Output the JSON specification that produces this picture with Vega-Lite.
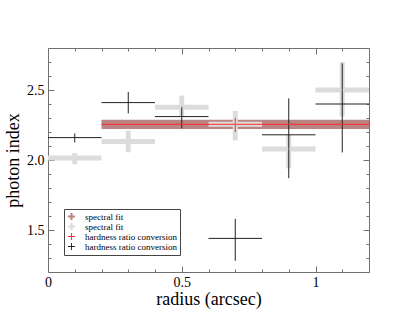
{
  "$schema": "https://vega.github.io/schema/vega-lite/v6.json",
  "width": 321,
  "height": 224,
  "autosize": "none",
  "padding": {"left": 48, "top": 48, "right": 46, "bottom": 49},
  "background": "white",
  "data": {"values": [
    {"s": "brown", "x": 0.7, "xlo": 0.2, "xhi": 1.2, "y": 2.255, "ylo": 2.222, "yhi": 2.288},
    {"s": "gray", "x": 0.1, "xlo": 0.0, "xhi": 0.2, "y": 2.015, "ylo": 1.97, "yhi": 2.05},
    {"s": "gray", "x": 0.3, "xlo": 0.2, "xhi": 0.4, "y": 2.133, "ylo": 2.055, "yhi": 2.21},
    {"s": "gray", "x": 0.5, "xlo": 0.4, "xhi": 0.6, "y": 2.376, "ylo": 2.31, "yhi": 2.46},
    {"s": "gray", "x": 0.7, "xlo": 0.6, "xhi": 0.8, "y": 2.255, "ylo": 2.14, "yhi": 2.35},
    {"s": "gray", "x": 0.9, "xlo": 0.8, "xhi": 1.0, "y": 2.079, "ylo": 1.94, "yhi": 2.18},
    {"s": "gray", "x": 1.1, "xlo": 1.0, "xhi": 1.2, "y": 2.5, "ylo": 2.31, "yhi": 2.7},
    {"s": "black", "x": 0.1, "xlo": 0.0, "xhi": 0.2, "y": 2.16, "ylo": 2.126, "yhi": 2.19},
    {"s": "black", "x": 0.3, "xlo": 0.2, "xhi": 0.4, "y": 2.41, "ylo": 2.333, "yhi": 2.486},
    {"s": "black", "x": 0.5, "xlo": 0.4, "xhi": 0.6, "y": 2.31, "ylo": 2.226, "yhi": 2.38},
    {"s": "black", "x": 0.7, "xlo": 0.6, "xhi": 0.8, "y": 1.44, "ylo": 1.28, "yhi": 1.58},
    {"s": "black", "x": 0.9, "xlo": 0.8, "xhi": 1.0, "y": 2.18, "ylo": 1.87, "yhi": 2.44},
    {"s": "black", "x": 1.1, "xlo": 1.0, "xhi": 1.2, "y": 2.4, "ylo": 2.054, "yhi": 2.69},
    {"s": "red", "x": 0.7, "xlo": 0.2, "xhi": 1.2, "y": 2.255, "ylo": 2.2, "yhi": 2.3}
  ]},
  "config": {
    "view": {"stroke": "#707070", "strokeWidth": 1},
    "axis": {
      "domain": false, "grid": false, "tickColor": "#707070", "tickWidth": 1,
      "labelFont": "Liberation Serif", "labelFontSize": 14, "labelColor": "black",
      "labelFlush": false, "labelOverlap": false,
      "titleFont": "Liberation Serif", "titleFontSize": 18, "titleFontWeight": "normal", "titleColor": "black"
    }
  },
  "layer": [
    {
      "mark": {"type": "rect", "color": "#b88484"},
      "transform": [{"filter": "datum.s == 'brown'"}],
      "encoding": {
        "x": {"field": "xlo", "type": "quantitative",
          "scale": {"domain": [0, 1.2], "nice": false, "zero": false},
          "axis": {"orient": "bottom", "title": "radius (arcsec)", "titlePadding": -2,
            "values": [0, 0.1, 0.2, 0.3, 0.4, 0.5, 0.6, 0.7, 0.8, 0.9, 1.0, 1.1, 1.2],
            "tickSize": {"condition": {"test": "abs(datum.value*2 - round(datum.value*2)) < 0.001", "value": -6}, "value": -3},
            "labelPadding": 9,
            "labelExpr": "abs(datum.value*2 - round(datum.value*2)) < 0.001 && datum.value < 1.1 ? format(datum.value, '.1~f') : ''"}},
        "x2": {"field": "xhi"},
        "y": {"field": "ylo", "type": "quantitative",
          "scale": {"domain": [1.2, 2.8], "nice": false, "zero": false},
          "axis": {"orient": "left", "title": "photon index", "titlePadding": 4,
            "values": [1.3, 1.4, 1.5, 1.6, 1.7, 1.8, 1.9, 2.0, 2.1, 2.2, 2.3, 2.4, 2.5, 2.6, 2.7],
            "tickSize": {"condition": {"test": "abs(datum.value*2 - round(datum.value*2)) < 0.001", "value": -6}, "value": -3},
            "labelPadding": 10,
            "labelExpr": "abs(datum.value*2 - round(datum.value*2)) < 0.001 ? format(datum.value, '.1f') : ''"}},
        "y2": {"field": "yhi"}
      }
    },
    {
      "mark": {"type": "rule", "color": "#dcdcdc", "strokeWidth": 5},
      "transform": [{"filter": "datum.s == 'gray'"}],
      "encoding": {
        "x": {"field": "xlo", "type": "quantitative",
          "scale": {"domain": [0, 1.2], "nice": false, "zero": false},
          "axis": {"orient": "top", "title": null, "labels": false,
            "values": [0, 0.1, 0.2, 0.3, 0.4, 0.5, 0.6, 0.7, 0.8, 0.9, 1.0, 1.1, 1.2],
            "tickSize": {"condition": {"test": "abs(datum.value*2 - round(datum.value*2)) < 0.001", "value": -6}, "value": -3}}},
        "x2": {"field": "xhi"},
        "y": {"field": "y", "type": "quantitative",
          "scale": {"domain": [1.2, 2.8], "nice": false, "zero": false},
          "axis": {"orient": "right", "title": null, "labels": false,
            "values": [1.3, 1.4, 1.5, 1.6, 1.7, 1.8, 1.9, 2.0, 2.1, 2.2, 2.3, 2.4, 2.5, 2.6, 2.7],
            "tickSize": {"condition": {"test": "abs(datum.value*2 - round(datum.value*2)) < 0.001", "value": -6}, "value": -3}}}
      }
    },
    {
      "mark": {"type": "rule", "color": "#dcdcdc", "strokeWidth": 5},
      "transform": [{"filter": "datum.s == 'gray'"}],
      "encoding": {
        "x": {"field": "x", "type": "quantitative", "scale": {"domain": [0, 1.2], "nice": false, "zero": false}, "axis": null},
        "y": {"field": "ylo", "type": "quantitative", "scale": {"domain": [1.2, 2.8], "nice": false, "zero": false}, "axis": null},
        "y2": {"field": "yhi"}
      }
    },
    {
      "mark": {"type": "rule", "color": "#222222", "strokeWidth": 1},
      "transform": [{"filter": "datum.s == 'black'"}],
      "encoding": {
        "x": {"field": "xlo", "type": "quantitative", "scale": {"domain": [0, 1.2], "nice": false, "zero": false}, "axis": null},
        "x2": {"field": "xhi"},
        "y": {"field": "y", "type": "quantitative", "scale": {"domain": [1.2, 2.8], "nice": false, "zero": false}, "axis": null}
      }
    },
    {
      "mark": {"type": "rule", "color": "#222222", "strokeWidth": 1},
      "transform": [{"filter": "datum.s == 'black'"}],
      "encoding": {
        "x": {"field": "x", "type": "quantitative", "scale": {"domain": [0, 1.2], "nice": false, "zero": false}, "axis": null},
        "y": {"field": "ylo", "type": "quantitative", "scale": {"domain": [1.2, 2.8], "nice": false, "zero": false}, "axis": null},
        "y2": {"field": "yhi"}
      }
    },
    {
      "mark": {"type": "rule", "color": "#ff2a2a", "strokeWidth": 1},
      "transform": [{"filter": "datum.s == 'red'"}],
      "encoding": {
        "x": {"field": "xlo", "type": "quantitative", "scale": {"domain": [0, 1.2], "nice": false, "zero": false}, "axis": null},
        "x2": {"field": "xhi"},
        "y": {"field": "y", "type": "quantitative", "scale": {"domain": [1.2, 2.8], "nice": false, "zero": false}, "axis": null}
      }
    },
    {
      "mark": {"type": "rule", "color": "#ff2a2a", "strokeWidth": 1},
      "transform": [{"filter": "datum.s == 'red'"}],
      "encoding": {
        "x": {"field": "x", "type": "quantitative", "scale": {"domain": [0, 1.2], "nice": false, "zero": false}, "axis": null},
        "y": {"field": "ylo", "type": "quantitative", "scale": {"domain": [1.2, 2.8], "nice": false, "zero": false}, "axis": null},
        "y2": {"field": "yhi"}
      }
    },
    {
      "mark": {"type": "point", "filled": true, "size": 1, "opacity": 1},
      "encoding": {
        "x": {"field": "x", "type": "quantitative", "scale": {"domain": [0, 1.2], "nice": false, "zero": false}, "axis": null},
        "y": {"field": "y", "type": "quantitative", "scale": {"domain": [1.2, 2.8], "nice": false, "zero": false}, "axis": null},
        "color": {"field": "s", "type": "nominal",
          "scale": {"domain": ["brown", "gray", "red", "black"], "range": ["#b88484", "#dcdcdc", "#ff2a2a", "#222222"]},
          "legend": {"orient": "none", "legendX": 16, "legendY": 161, "title": null,
            "strokeColor": "#444444", "fillColor": "white", "padding": 3,
            "labelFont": "Liberation Serif", "labelFontSize": 9, "labelColor": "black",
            "symbolSize": 50, "rowPadding": 0, "labelOffset": 9,
            "labelExpr": "datum.value == 'brown' || datum.value == 'gray' ? 'spectral fit' : 'hardness ratio conversion'"}},
        "shape": {"field": "s", "type": "nominal",
          "scale": {"domain": ["brown", "gray", "red", "black"],
            "range": ["M-0.3,-1H0.3V-0.3H1V0.3H0.3V1H-0.3V0.3H-1V-0.3H-0.3Z", "M-0.3,-1H0.3V-0.3H1V0.3H0.3V1H-0.3V0.3H-1V-0.3H-0.3Z", "M-0.13,-1H0.13V-0.13H1V0.13H0.13V1H-0.13V0.13H-1V-0.13H-0.13Z", "M-0.13,-1H0.13V-0.13H1V0.13H0.13V1H-0.13V0.13H-1V-0.13H-0.13Z"]},
          "legend": {"orient": "none", "legendX": 16, "legendY": 161, "title": null,
            "strokeColor": "#444444", "fillColor": "white", "padding": 3,
            "labelFont": "Liberation Serif", "labelFontSize": 9, "labelColor": "black",
            "symbolSize": 50, "rowPadding": 0, "labelOffset": 9,
            "labelExpr": "datum.value == 'brown' || datum.value == 'gray' ? 'spectral fit' : 'hardness ratio conversion'"}}
      }
    }
  ],
  "resolve": {"axis": {"x": "independent", "y": "independent"}}
}
